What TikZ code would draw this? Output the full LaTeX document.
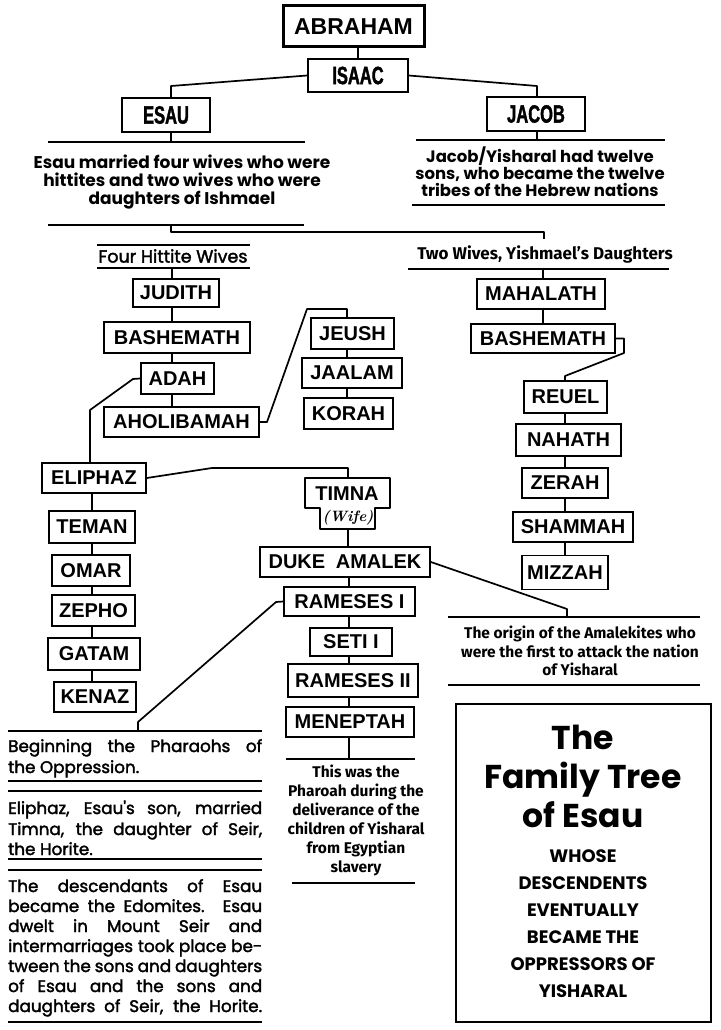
\documentclass[tikz,border=0pt]{standalone}
\usepackage{fontspec}
\newfontfamily\libf{Liberation Sans}
\newfontfamily\libcond[FakeStretch=0.66,FakeBold=1.5]{Liberation Sans}
\newfontfamily\popf{Poppins}
\newfontfamily\popm[FakeBold=2]{Poppins}
\newfontfamily\firaf{Fira Sans}
\begin{document}
\begin{tikzpicture}[x=1pt,y=-1pt,
  box/.style={draw, line width=1.7pt, inner sep=0pt, fill=white, font=\libf\bfseries\fontsize{20}{23}\selectfont},
  bigbox/.style={box, line width=3pt, font=\libf\bfseries\fontsize{23}{26}\selectfont},
  condbox/.style={box, font=\libcond\bfseries\fontsize{25}{28}\selectfont},
  con/.style={line width=1.7pt, line join=round},
  rulel/.style={line width=1.6pt},
  captxt/.style={align=center, inner sep=0pt, font=\popf\bfseries\fontsize{17}{18}\selectfont},
  ccaptxt/.style={align=center, inner sep=0pt, font=\firaf\bfseries\fontsize{15.5}{19}\selectfont},
  bltxt/.style={inner sep=0pt, anchor=base west, font=\popm\fontsize{16.8}{20}\selectfont},
]
\useasboundingbox (0,0) rectangle (720,1030);
\fill[white] (0,0) rectangle (720,1030);

% column coordinates
\coordinate (colH) at (172,0);
\coordinate (colJ) at (347,0);
\coordinate (colE) at (92,0);
\coordinate (colM) at (349,0);
\coordinate (colI) at (543,0);
\coordinate (colR) at (565,0);

% top
\node[bigbox, minimum width=141pt, minimum height=41pt] (abraham) at (353.5,26.5) {ABRAHAM};
\node[condbox, minimum width=100pt, minimum height=33pt] (isaac) at (358,75.5) {ISAAC};
\node[condbox, minimum width=88pt, minimum height=34pt] (esau) at (166,115) {ESAU};
\node[condbox, minimum width=98pt, minimum height=34pt] (jacob) at (536,114) {JACOB};

\draw[con] (abraham.south -| isaac.north) -- (isaac.north);
\coordinate (eb) at (171,86);
\coordinate (jb) at (537,86);
\draw[con] (isaac.west) -- (eb) -- (eb |- esau.north);
\draw[con] (isaac.east) -- (jb) -- (jb |- jacob.north);

% rules top
\coordinate (r1a) at (48,142); \coordinate (r1b) at (305,142);
\coordinate (r2a) at (416,140); \coordinate (r2b) at (665,140);
\coordinate (r3a) at (412,205); \coordinate (r3b) at (665,205);
\coordinate (r4a) at (48,225); \coordinate (r4b) at (304,225);
\draw[rulel] (r1a) -- (r1b);
\draw[rulel] (r2a) -- (r2b);
\draw[rulel] (r3a) -- (r3b);
\draw[rulel] (r4a) -- (r4b);
\draw[con] (esau.south -| eb) -- (eb |- r1a);
\draw[con] (jacob.south -| jb) -- (jb |- r2a);

\node[captxt] (esautext) at (182,182) {Esau married four wives who were\\hittites and two wives who were\\daughters of Ishmael};
\node[captxt, font=\popf\bfseries\fontsize{16.5}{16.8}\selectfont] (jacobtext) at (540,172) {Jacob/Yisharal had twelve\\sons, who became the twelve\\tribes of the Hebrew nations};

% join
\coordinate (j1) at (171,225);
\coordinate (j2) at (544,232);
\coordinate (j3) at (544,239);
\draw[con] (j1) -- (j1 |- j2) -- (j2) -- (j3);

% four hittite wives
\coordinate (r5a) at (97,245); \coordinate (r5b) at (250,245);
\coordinate (r6a) at (97,268); \coordinate (r6b) at (250,268);
\draw[rulel] (r5a) -- (r5b);
\draw[rulel] (r6a) -- (r6b);
\node[inner sep=0pt, font=\popm\fontsize{17.5}{18}\selectfont] (fourhw) at (173,256) {Four Hittite Wives};

% two wives
\coordinate (r7a) at (408,269); \coordinate (r7b) at (669,269);
\draw[rulel] (r7a) -- (r7b);
\node[inner sep=0pt, font=\firaf\bfseries\fontsize{17}{18}\selectfont] (twow) at (545,254) {Two Wives, Yishmael’s Daughters};

% hittite column
\node[box, minimum width=86pt, minimum height=28pt] (judith) at (176,293) {JUDITH};
\node[box, minimum width=146pt, minimum height=31pt] (bashL) at (177,337.5) {BASHEMATH};
\node[box, minimum width=73pt, minimum height=31pt] (adah) at (177.5,378.5) {ADAH};
\node[box, minimum width=155pt, minimum height=30pt] (ahol) at (181.5,422) {AHOLIBAMAH};
\draw[con] (colH |- r6a) -- (colH |- judith.north);
\draw[con] (colH |- judith.south) -- (colH |- bashL.north);
\draw[con] (colH |- bashL.south) -- (colH |- adah.north);
\draw[con] (colH |- adah.south) -- (colH |- ahol.north);

% jeush column
\node[box, minimum width=83pt, minimum height=31pt] (jeush) at (352.5,333.5) {JEUSH};
\node[box, minimum width=100pt, minimum height=30pt] (jaalam) at (352,373) {JAALAM};
\node[box, minimum width=89pt, minimum height=31pt] (korah) at (348.5,413.5) {KORAH};
\coordinate (aj1) at (267,422);
\coordinate (aj2) at (307,309);
\draw[con] (ahol.east) -- (aj1) -- (aj2) -- (aj2 -| colJ) -- (colJ |- jeush.north);
\draw[con] (colJ |- jeush.south) -- (colJ |- jaalam.north);
\draw[con] (colJ |- jaalam.south) -- (colJ |- korah.north);

% eliphaz column
\node[box, minimum width=104pt, minimum height=30pt] (eliphaz) at (94,478) {ELIPHAZ};
\node[box, minimum width=86pt, minimum height=32pt] (teman) at (92,527) {TEMAN};
\node[box, minimum width=78pt, minimum height=31pt] (omar) at (91,570.5) {OMAR};
\node[box, minimum width=83pt, minimum height=31pt] (zepho) at (93.5,610.5) {ZEPHO};
\node[box, minimum width=92pt, minimum height=32pt] (gatam) at (94,654) {GATAM};
\node[box, minimum width=82pt, minimum height=30pt] (kenaz) at (95,697) {KENAZ};
\coordinate (ae1) at (133,379);
\coordinate (ae2) at (90,410);
\draw[con] (adah.west) -- (ae1) -- (ae2) -- (ae2 |- eliphaz.north);
\draw[con] (colE |- eliphaz.south) -- (colE |- teman.north);
\draw[con] (colE |- teman.south) -- (colE |- omar.north);
\draw[con] (colE |- omar.south) -- (colE |- zepho.north);
\draw[con] (colE |- zepho.south) -- (colE |- gatam.north);
\draw[con] (colE |- gatam.south) -- (colE |- kenaz.north);

% timna
\draw[con, fill=white] (305,478) -- (390,478) -- (390,508) -- (375,508) -- (375,529) -- (320,529) -- (320,508) -- (305,508) -- cycle;
\node[inner sep=0pt, font=\libf\bfseries\fontsize{20}{23}\selectfont] (timna) at (347,494) {TIMNA};
\node[inner sep=0pt, font=\rmfamily\bfseries\itshape\fontsize{15}{16}\selectfont] (wife) at (348,518) {(Wife)};
\coordinate (timnatop) at (348,478);
\coordinate (timnabot) at (348,529);
\coordinate (et1) at (212,468);
\draw[con] (eliphaz.east) -- (et1) -- (et1 -| timnatop) -- (timnatop);

% pharaoh column
\node[box, minimum width=170pt, minimum height=30pt] (duke) at (345,562) {DUKE\hspace{5pt} AMALEK};
\node[box, minimum width=131pt, minimum height=29pt] (ram1) at (349.5,601.5) {RAMESES I};
\node[box, minimum width=82pt, minimum height=28pt] (seti) at (351,642) {SETI I};
\node[box, minimum width=130pt, minimum height=33pt] (ram2) at (353,680.5) {RAMESES II};
\node[box, minimum width=128pt, minimum height=30pt] (men) at (350,722) {MENEPTAH};
\draw[con] (timnabot) -- (timnabot |- duke.north);
\draw[con] (colM |- duke.south) -- (colM |- ram1.north);
\draw[con] (colM |- ram1.south) -- (colM |- seti.north);
\draw[con] (colM |- seti.south) -- (colM |- ram2.north);
\draw[con] (colM |- ram2.south) -- (colM |- men.north);

\coordinate (r10a) at (286,759); \coordinate (r10b) at (415,759);
\coordinate (r11a) at (292,883); \coordinate (r11b) at (415,883);
\draw[rulel] (r10a) -- (r10b);
\draw[rulel] (r11a) -- (r11b);
\draw[con] (colM |- men.south) -- (colM |- r10a);
\node[ccaptxt] (mentext) at (356,820) {This was the\\Pharoah during the\\deliverance of the\\children of Yisharal\\from Egyptian\\slavery};

% amalekites
\coordinate (r8a) at (448,617); \coordinate (r8b) at (700,617);
\coordinate (r9a) at (448,685); \coordinate (r9b) at (700,685);
\draw[rulel] (r8a) -- (r8b);
\draw[rulel] (r9a) -- (r9b);
\coordinate (da1) at (567,609);
\draw[con] (duke.east) -- (da1) -- (da1 |- r8a);
\node[ccaptxt, font=\firaf\bfseries\fontsize{15.5}{18.5}\selectfont] (amaltext) at (580,651) {The origin of the Amalekites who\\were the first to attack the nation\\of Yisharal};

% ishmael column
\node[box, minimum width=128pt, minimum height=30pt] (mahalath) at (541,294) {MAHALATH};
\node[box, minimum width=144pt, minimum height=29pt] (bashR) at (543,338.5) {BASHEMATH};
\node[box, minimum width=83pt, minimum height=32pt] (reuel) at (565.5,397) {REUEL};
\node[box, minimum width=105pt, minimum height=32pt] (nahath) at (568.5,440) {NAHATH};
\node[box, minimum width=86pt, minimum height=30pt] (zerah) at (565,483) {ZERAH};
\node[box, minimum width=120pt, minimum height=30pt] (shammah) at (573,527) {SHAMMAH};
\node[box, minimum width=86pt, minimum height=34pt] (mizzah) at (565,572.5) {MIZZAH};
\draw[con] (colI |- r7a) -- (colI |- mahalath.north);
\draw[con] (colI |- mahalath.south) -- (colI |- bashR.north);
\coordinate (br1) at (624,338.5);
\coordinate (br2) at (624,353);
\coordinate (br3) at (565,376);
\draw[con] (bashR.east) -- (br1) -- (br2) -- (br3) -- (colR |- reuel.north);
\draw[con] (colR |- reuel.south) -- (colR |- nahath.north);
\draw[con] (colR |- nahath.south) -- (colR |- zerah.north);
\draw[con] (colR |- zerah.south) -- (colR |- shammah.north);
\draw[con] (colR |- shammah.south) -- (colR |- mizzah.north);

% bottom left
\coordinate (b1a) at (8,731); \coordinate (b1b) at (262,731);
\coordinate (b2a) at (8,781); \coordinate (b2b) at (262,781);
\coordinate (b3a) at (8,791); \coordinate (b3b) at (262,791);
\coordinate (b4a) at (8,859); \coordinate (b4b) at (262,859);
\coordinate (b5a) at (8,870); \coordinate (b5b) at (262,870);
\coordinate (b6a) at (8,1022); \coordinate (b6b) at (262,1022);
\foreach \p in {b1,b2,b3,b4,b5,b6} \draw[rulel] (\p a) -- (\p b);
\coordinate (rb1) at (276,602);
\coordinate (rb2) at (138,722);
\draw[con] (ram1.west) -- (rb1) -- (rb2) -- (rb2 |- b1a);

\node[bltxt] (t1) at (8,752) {\makebox[254pt][s]{Beginning the Pharaohs of}};
\node[bltxt] (t2) at (8,773) {the Oppression.};
\node[bltxt] (t3) at (8,814) {\makebox[254pt][s]{Eliphaz, Esau's son, married}};
\node[bltxt] (t4) at (8,835) {\makebox[254pt][s]{Timna, the daughter of Seir,}};
\node[bltxt] (t5) at (8,855) {the Horite.};
\node[bltxt] (t6) at (8,892) {\makebox[254pt][s]{The descendants of Esau}};
\node[bltxt] (t7) at (8,912) {\makebox[254pt][s]{became the Edomites. Esau}};
\node[bltxt] (t8) at (8,932) {\makebox[254pt][s]{dwelt in Mount Seir and}};
\node[bltxt] (t9) at (8,952) {\makebox[254pt][s]{intermarriages took place be-}};
\node[bltxt] (t10) at (8,972) {\makebox[254pt][s]{tween the sons and daughters}};
\node[bltxt] (t11) at (8,992) {\makebox[254pt][s]{of Esau and the sons and}};
\node[bltxt] (t12) at (8,1012) {\makebox[254pt][s]{daughters of Seir, the Horite.}};

% title box
\node[draw, line width=2.5pt, minimum width=255pt, minimum height=318pt, inner sep=0pt] (titlebox) at (583.5,863) {};
\node[align=center, inner sep=0pt, font=\popf\bfseries\fontsize{33}{39}\selectfont] (title) at (583,776) {The\\Family Tree\\of Esau};
\node[align=center, inner sep=0pt, font=\popf\bfseries\fontsize{18}{27}\selectfont] (subtitle) at (583,924) {WHOSE\\DESCENDENTS\\EVENTUALLY\\BECAME THE\\OPPRESSORS OF\\YISHARAL};
\end{tikzpicture}
\end{document}
